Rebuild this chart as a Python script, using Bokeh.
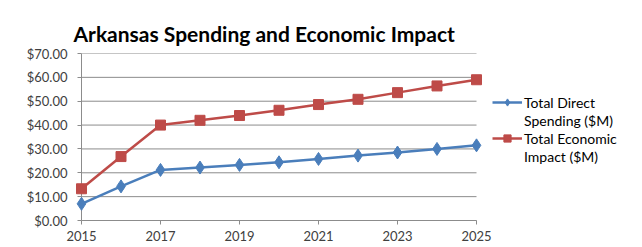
from bokeh.plotting import figure
from bokeh.models import (Legend, LegendItem, NumeralTickFormatter, FixedTicker,
                          Range1d, ColumnDataSource)
from bokeh.embed import file_html
from bokeh.resources import INLINE

years = [2015, 2016, 2017, 2018, 2019, 2020, 2021, 2022, 2023, 2024, 2025]
direct_spending = [7.0, 14.3, 21.2, 22.2, 23.3, 24.4, 25.8, 27.2, 28.5, 30.0, 31.5]
economic_impact = [13.3, 26.8, 40.0, 42.0, 44.0, 46.2, 48.6, 50.8, 53.6, 56.4, 59.0]
x_ticks = [2015, 2017, 2019, 2021, 2023, 2025]
y_ticks = [0, 10, 20, 30, 40, 50, 60, 70]
legend_lines = [("Total Direct", "Spending ($M)"), ("Total Economic", "Impact ($M)")]

FONT = "Lato"
BLUE = "#4A7EBB"
RED = "#BE4B48"
GRID = "#8C8C8C"

# layout: the frame is widened to the right so the legend can sit inside it;
# the axis and the grid lines stop at the last year.
W, H = 640, 246
LEFT, RIGHT, TOP, BOTTOM = 81, 10, 53, 26
PLOT_W = 395                       # pixel width of the 2015..2025 span
frame_w = W - LEFT - RIGHT
x_start, x_last = years[0], years[-1]
x_end = x_last + (frame_w - PLOT_W) * (x_last - x_start) / PLOT_W

src = ColumnDataSource(dict(year=years, direct=direct_spending, impact=economic_impact))

p = figure(width=W, height=H, output_backend="svg", toolbar_location=None,
           x_range=Range1d(x_start, x_end), y_range=Range1d(y_ticks[0], y_ticks[-1]),
           min_border_left=LEFT, min_border_bottom=BOTTOM, min_border_top=TOP,
           min_border_right=RIGHT)

p.title.text = "Arkansas Spending and Economic Impact"
p.title.text_font = FONT
p.title.text_font_size = "21px"
p.title.text_font_style = "bold"
p.title.text_color = "#000000"
p.title.align = "left"
p.title.offset = -8
p.title.standoff = 16

p.outline_line_color = None
p.background_fill_color = "white"
p.border_fill_color = "white"

p.xgrid.grid_line_color = None
p.ygrid.grid_line_color = None
p.segment(x0=[x_ticks[0]] * len(y_ticks), y0=y_ticks,
          x1=[x_ticks[-1]] * len(y_ticks), y1=y_ticks,
          line_color=GRID, line_width=1, level="underlay")

p.xaxis.ticker = FixedTicker(ticks=x_ticks)
p.xaxis.bounds = (x_ticks[0], x_ticks[-1])
p.yaxis.ticker = FixedTicker(ticks=y_ticks)
p.yaxis.formatter = NumeralTickFormatter(format="$0.00")
for ax in (p.xaxis, p.yaxis):
    ax.axis_line_color = GRID
    ax.major_tick_line_color = GRID
    ax.minor_tick_line_color = None
    ax.major_tick_in = 0
    ax.major_tick_out = 4
    ax.major_label_text_font = FONT
    ax.major_label_text_font_size = "13px"
    ax.major_label_text_color = "#404040"
p.yaxis.major_label_standoff = 10
p.xaxis.major_label_standoff = 6

l1 = p.line("year", "direct", source=src, line_color=BLUE, line_width=2.5, level="overlay")
m1 = p.scatter("year", "direct", source=src, marker="diamond", size=13,
               fill_color=BLUE, line_color=BLUE, level="overlay")
l2 = p.line("year", "impact", source=src, line_color=RED, line_width=2.5, level="overlay")
m2 = p.scatter("year", "impact", source=src, marker="square", size=10,
               fill_color=RED, line_color=RED, level="overlay")
# invisible renderers used only for the second line of each legend label
d1 = p.line(x=[], y=[], line_alpha=0)
d2 = p.line(x=[], y=[], line_alpha=0)

legend = Legend(items=[
    LegendItem(label=legend_lines[0][0], renderers=[l1, m1]),
    LegendItem(label=legend_lines[0][1], renderers=[d1]),
    LegendItem(label=legend_lines[1][0], renderers=[l2, m2]),
    LegendItem(label=legend_lines[1][1], renderers=[d2]),
], location=(PLOT_W + 16, 55))
legend.label_text_font = FONT
legend.label_text_font_size = "14px"
legend.label_text_color = "#000000"
legend.glyph_width = 30
legend.glyph_height = 18
legend.label_height = 18
legend.label_standoff = 2
legend.padding = 0
legend.margin = 0
legend.spacing = 0
legend.border_line_color = None
legend.background_fill_alpha = 0
p.add_layout(legend, "center")

open("out.html", "w").write(file_html(p, INLINE))
